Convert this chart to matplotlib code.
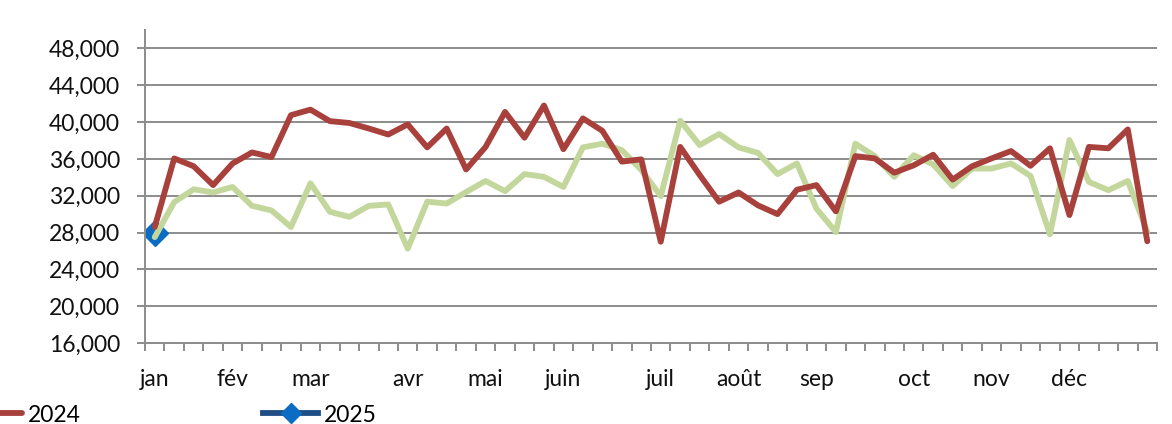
import numpy as np
import matplotlib
matplotlib.use("Agg")
import matplotlib.pyplot as plt
from matplotlib.ticker import FuncFormatter

plt.rcParams['font.family'] = ['Lato', 'DejaVu Sans']

# weekly values, 52 weeks
v2023 = [27500, 31300, 32700, 32350, 32950, 30900, 30400, 28600, 33350, 30250,
         29700, 30900, 31050, 26250, 31350, 31150, 32400, 33600, 32500, 34350,
         34050, 32950, 37250, 37650, 36950, 34800, 31950, 40150, 37500, 38700,
         37250, 36650, 34350, 35500, 30600, 28050, 37650, 36300, 34050, 36400,
         35400, 33050, 34950, 34950, 35500, 34150, 27800, 38050, 33500, 32600,
         33600, 28100]
v2024 = [28600, 36050, 35200, 33150, 35500, 36700, 36200, 40750, 41350, 40100,
         39900, 39300, 38650, 39750, 37250, 39300, 34850, 37300, 41100, 38300,
         41800, 37050, 40400, 39050, 35700, 35950, 27000, 37300, 34250, 31350,
         32350, 30950, 30000, 32650, 33150, 30300, 36300, 36050, 34500, 35300,
         36450, 33750, 35200, 36050, 36850, 35250, 37150, 29900, 37300, 37150,
         39200, 27050]
v2025 = [27950]

months = ['jan', 'fév', 'mar', 'avr', 'mai', 'juin', 'juil', 'août', 'sep',
          'oct', 'nov', 'déc']
month_week = [0, 4, 8, 13, 17, 21, 26, 30, 34, 39, 43, 47]

fig = plt.figure(figsize=(11.72, 4.24), dpi=100)
ax = fig.add_axes([145 / 1172, 1 - 343 / 424, (1157 - 145) / 1172, (343 - 30) / 424])

x23 = np.arange(len(v2023)) + 0.5
x24 = np.arange(len(v2024)) + 0.5
x25 = np.arange(len(v2025)) + 0.5

l25, = ax.plot(x25, v2025, color='#1F4E86', lw=4.2, marker='D', markersize=13,
               markerfacecolor='#0A6CC2', markeredgecolor='#0A6CC2', zorder=2)
l23, = ax.plot(x23, v2023, color='#C3D79C', lw=4.2, solid_joinstyle='round',
               solid_capstyle='round', zorder=3)
l24, = ax.plot(x24, v2024, color='#A8403C', lw=4.2, solid_joinstyle='round',
               solid_capstyle='round', zorder=4)

ax.set_xlim(0, 52)
ax.set_ylim(16000, 50000)
ax.set_yticks(np.arange(16000, 48001, 4000))
ax.yaxis.set_major_formatter(FuncFormatter(lambda v, p: f'{int(v):,}'))
ax.grid(axis='y', color='#8C8C8C', lw=1.4)
ax.set_axisbelow(True)

ax.set_xticks([w + 0.5 for w in month_week])
ax.set_xticklabels(months)
ax.set_xticks(np.arange(0, 53), minor=True)
ax.tick_params(axis='x', which='major', length=0, pad=19, labelsize=16.5, colors='#111111')
ax.tick_params(axis='x', which='minor', length=6, width=1.4, color='#8C8C8C', direction='out')
ax.tick_params(axis='y', length=6, width=1.4, color='#8C8C8C', pad=12, labelsize=16.5,
               labelcolor='#111111')

for s in ['top', 'right']:
    ax.spines[s].set_visible(False)
for s in ['left', 'bottom']:
    ax.spines[s].set_color('#8C8C8C')
    ax.spines[s].set_linewidth(1.4)

# the 2023 entry sits off the left edge in the original, only 2024/2025 show
fig.legend([l24, l25], ['2024', '2025'], ncol=2, frameon=False,
           loc='center left', bbox_to_anchor=(-33 / 1172, 1 - 415 / 424),
           borderaxespad=0, borderpad=0, handlelength=2.4, handletextpad=0.26,
           columnspacing=7.95, fontsize=16.5, markerscale=0.75)

fig.savefig('out.png', dpi=100)
